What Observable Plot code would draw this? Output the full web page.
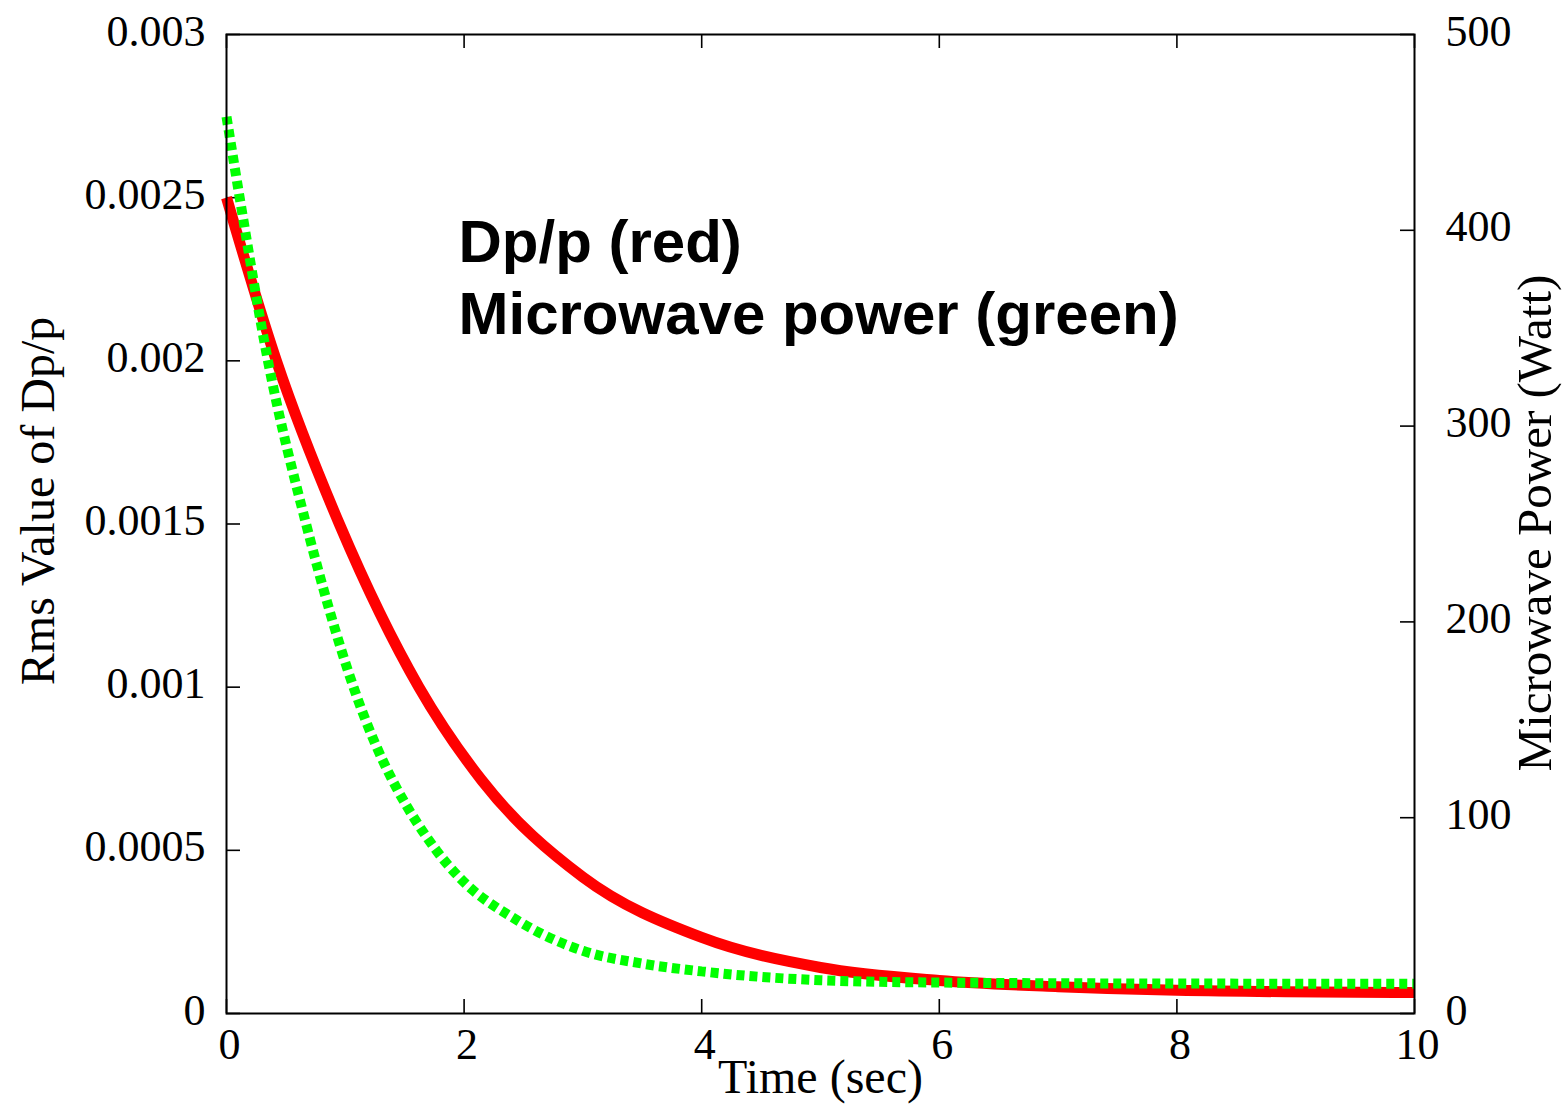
<!DOCTYPE html>
<html>
<head>
<meta charset="utf-8">
<script src="https://cdn.jsdelivr.net/npm/d3@7"></script>
<script src="https://cdn.jsdelivr.net/npm/@observablehq/plot@0.6"></script>
<style>
  html, body { margin: 0; padding: 0; background: #fff; }
  #chart svg { display: block; }
</style>
</head>
<body>
<div id="chart"></div>
<script>
// ---- data ----
// Rms value of Dp/p (red, left axis)
const dpTimes = [0, 0.42, 0.95, 1.62, 2.15, 3, 4, 5, 6, 7, 8, 10];
const dpRms = [0.0025, 0.002, 0.0015, 0.001, 0.000714, 0.000418, 0.000233, 0.000141, 0.000101, 0.000082, 0.000071, 0.000064];
// Microwave power in Watt (green, right axis)
const powerTimes = [0, 0.11, 0.35, 0.67, 1.07, 1.77, 1.96, 2.45, 3, 3.5, 4, 5, 6, 8, 10];
const powerWatt = [458, 417, 333, 250, 166.5, 83, 69.5, 47.5, 32, 25.5, 21.5, 17, 15.8, 15.3, 15.2];

const xTicks = [0, 2, 4, 6, 8, 10];
const yTicks = [0, 0.0005, 0.001, 0.0015, 0.002, 0.0025, 0.003];
const yTickLabels = ["0", "0.0005", "0.001", "0.0015", "0.002", "0.0025", "0.003"];
const wattTicks = [0, 100, 200, 300, 400, 500];
const xDomain = [0, 10];
const yDomain = [0, 0.003];
const wattDomain = [0, 500];

const xTitle = "Time (sec)";
const yTitle = "Rms Value of Dp/p";
const y2Title = "Microwave Power (Watt)";
const annotationLines = ["Dp/p (red)", "Microwave power (green)"];

// ---- build ----
const W = 1562, H = 1110;
const M = {left: 226, right: 148, top: 34, bottom: 97};
const innerW = W - M.left - M.right;
const innerH = H - M.top - M.bottom;
const TICK = 14;

const dpRows = dpTimes.map((t, i) => ({t, v: dpRms[i]}));
const powerRows = powerTimes.map((t, i) => ({t, w: powerWatt[i]}));
const wattToY = d3.scaleLinear(wattDomain, yDomain);
const serif = "'Liberation Serif', 'Times New Roman', Times, serif";

const chart = Plot.plot({
  width: W,
  height: H,
  marginLeft: M.left,
  marginRight: M.right,
  marginTop: M.top,
  marginBottom: M.bottom,
  style: {fontFamily: serif, fontSize: "44px", color: "#000", background: "#fff"},
  x: {domain: xDomain},
  y: {domain: yDomain},
  marks: [
    // inward tick marks on all four sides
    Plot.tickX(xTicks, {x: d => d, insetTop: innerH - TICK, stroke: "#000", strokeWidth: 1.6}),
    Plot.tickX(xTicks, {x: d => d, insetBottom: innerH - TICK, stroke: "#000", strokeWidth: 1.6}),
    Plot.tickY(yTicks, {y: d => d, insetRight: innerW - TICK, stroke: "#000", strokeWidth: 1.6}),
    Plot.tickY(wattTicks, {y: d => wattToY(d), insetLeft: innerW - TICK, stroke: "#000", strokeWidth: 1.6}),
    // tick labels
    Plot.axisX({anchor: "bottom", ticks: xTicks, tickSize: 0, tickPadding: 14, dx: 3, fontSize: 44, label: null, tickFormat: d => String(d)}),
    Plot.axisY({anchor: "left", ticks: yTicks, tickSize: 0, tickPadding: 21, dy: -3, fontSize: 44, label: null,
      tickFormat: d => yTickLabels[yTicks.indexOf(d)]}),
    Plot.axisY({anchor: "right", ticks: wattTicks.map(wattToY), tickSize: 0, tickPadding: 31, dy: -3, fontSize: 44, label: null,
      tickFormat: d => String(Math.round(wattToY.invert(d)))}),
    // data
    Plot.line(dpRows, {x: "t", y: "v", stroke: "#ff0000", strokeWidth: 11, strokeLinecap: "butt", curve: "monotone-x"}),
    Plot.line(powerRows, {x: "t", y: d => wattToY(d.w), stroke: "#00ff00", strokeWidth: 10,
      strokeDasharray: "8,5", strokeLinecap: "butt", strokeLinejoin: "miter", curve: "monotone-x"}),
    Plot.frame({stroke: "#000", strokeWidth: 2}),
    // titles
    Plot.text([xTitle], {frameAnchor: "bottom", dy: 79, lineAnchor: "bottom", textAnchor: "middle", fontSize: 48, fontFamily: serif}),
    Plot.text([yTitle], {frameAnchor: "left", dx: -173, dy: -23, rotate: -90, textAnchor: "middle", lineAnchor: "bottom", fontSize: 48, fontFamily: serif}),
    Plot.text([y2Title], {frameAnchor: "right", dx: 136, dy: -1, rotate: -90, textAnchor: "middle", lineAnchor: "bottom", fontSize: 49, fontFamily: serif}),
    // annotation
    Plot.text([annotationLines.join("\n")], {
      frameAnchor: "top-left", dx: 232, dy: 176, lineAnchor: "top", textAnchor: "start",
      lineHeight: 1.2, fontSize: 60, fontWeight: "bold",
      fontFamily: "'Liberation Sans', Arial, Helvetica, sans-serif", fill: "#000"
    })
  ]
});
document.getElementById("chart").appendChild(chart);
</script>
</body>
</html>
